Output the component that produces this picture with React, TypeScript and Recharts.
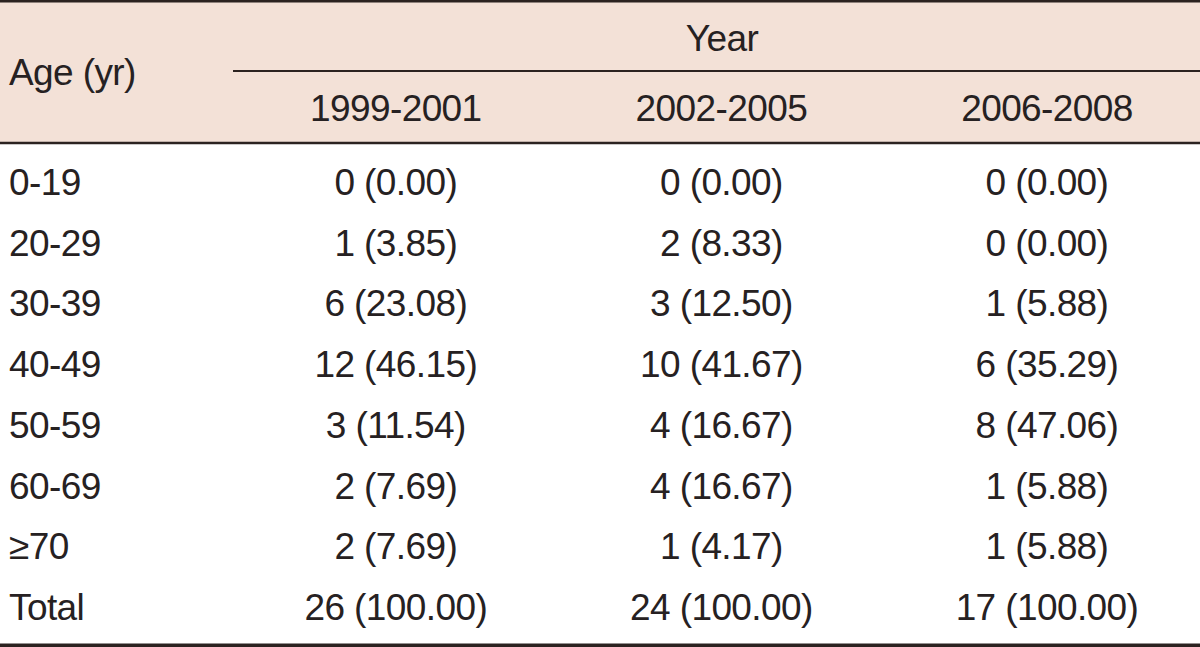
import { ScatterChart, Scatter, XAxis, YAxis, Customized } from 'recharts'

// table data
const periods = ['1999-2001', '2002-2005', '2006-2008']
const ageGroups = ['0-19', '20-29', '30-39', '40-49', '50-59', '60-69', '≥70', 'Total']

const counts1999 = [0, 1, 6, 12, 3, 2, 2, 26]
const pct1999 = [0.0, 3.85, 23.08, 46.15, 11.54, 7.69, 7.69, 100.0]
const counts2002 = [0, 2, 3, 10, 4, 4, 1, 24]
const pct2002 = [0.0, 8.33, 12.5, 41.67, 16.67, 16.67, 4.17, 100.0]
const counts2006 = [0, 0, 1, 6, 8, 1, 1, 17]
const pct2006 = [0.0, 0.0, 5.88, 35.29, 47.06, 5.88, 5.88, 100.0]

const headerTitle = 'Year'
const rowTitle = 'Age (yr)'

const W = 1200
const H = 647
const INK = '#262122'
const RULE = '#2B2220'
const FONT = '"Liberation Sans", Arial, sans-serif'
const FS = 37

const textProps = { fontFamily: FONT, fontSize: FS, fill: INK, letterSpacing: -0.6 }

const buildColumn = (col: number, counts: number[], pcts: number[]) =>
  counts.map((n, i) => ({ col, row: i, label: `${n} (${pcts[i].toFixed(2)})` }))

const col1 = buildColumn(1, counts1999, pct1999)
const col2 = buildColumn(2, counts2002, pct2002)
const col3 = buildColumn(3, counts2006, pct2006)

const CellText = (props: any) => {
  const { cx, cy, payload } = props
  return (
    <text x={cx} y={cy + 13.5} textAnchor="middle" {...textProps}>
      {payload.label}
    </text>
  )
}

const PeriodTick = ({ x, payload }: any) => (
  <text x={x} y={121} textAnchor="middle" {...textProps}>
    {periods[payload.value - 1]}
  </text>
)

const AgeTick = ({ y, payload }: any) => (
  <text x={9} y={y + 13.5} textAnchor="start" {...textProps}>
    {ageGroups[payload.value]}
  </text>
)

// rules and header titles
const Frame = () => (
  <g>
    <line x1={0} x2={W} y1={1.3} y2={1.3} stroke={RULE} strokeWidth={2.6} />
    <line x1={233} x2={W} y1={71} y2={71} stroke={RULE} strokeWidth={2} />
    <line x1={0} x2={W} y1={143} y2={143} stroke={RULE} strokeWidth={2.4} />
    <line x1={0} x2={W} y1={645.2} y2={645.2} stroke={RULE} strokeWidth={3.6} />
    <text x={722} y={51} textAnchor="middle" {...textProps}>
      {headerTitle}
    </text>
    <text x={9} y={85} textAnchor="start" {...textProps}>
      {rowTitle}
    </text>
  </g>
)

export default function App() {
  return (
    <div style={{ position: 'absolute', left: 0, top: 0, width: W, height: H, background: '#fff' }}>
      <div
        style={{ position: 'absolute', left: 0, top: 0, width: W, height: 143, background: '#F3E1D7' }}
      />
      <div style={{ position: 'absolute', left: 0, top: 0 }}>
        <ScatterChart width={W} height={H} margin={{ top: 0, right: 0, bottom: 10, left: 0 }}>
          <XAxis
            type="number"
            dataKey="col"
            orientation="top"
            domain={[0.5, 3.47]}
            ticks={[1, 2, 3]}
            height={151}
            axisLine={false}
            tickLine={false}
            tick={<PeriodTick />}
            allowDataOverflow
          />
          <YAxis
            type="number"
            dataKey="row"
            domain={[-0.5, 7.5]}
            ticks={[0, 1, 2, 3, 4, 5, 6, 7]}
            interval={0}
            reversed
            width={233}
            axisLine={false}
            tickLine={false}
            tick={<AgeTick />}
            allowDataOverflow
          />
          <Scatter name={periods[0]} data={col1} shape={<CellText />} isAnimationActive={false} />
          <Scatter name={periods[1]} data={col2} shape={<CellText />} isAnimationActive={false} />
          <Scatter name={periods[2]} data={col3} shape={<CellText />} isAnimationActive={false} />
          <Customized component={<Frame />} />
        </ScatterChart>
      </div>
    </div>
  )
}
